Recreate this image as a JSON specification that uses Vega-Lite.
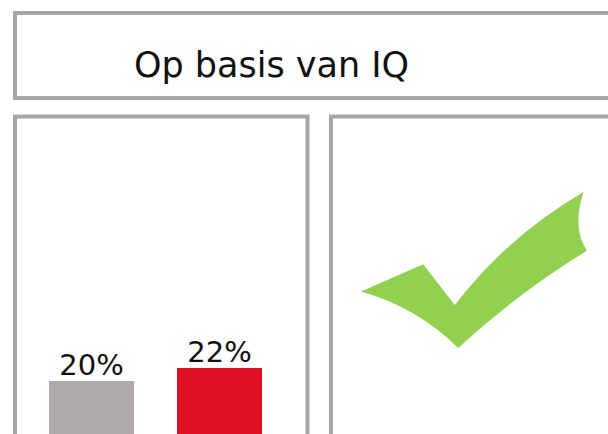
{
  "$schema": "https://vega.github.io/schema/vega-lite/v6.json",
  "padding": {"left": 13, "top": 11, "right": 0, "bottom": 0},
  "background": "white",
  "config": {"view": {"stroke": "#a6a6a6", "strokeWidth": 4}, "font": "DejaVu Sans"},
  "spacing": 14.5,
  "vconcat": [
    {
      "width": 600,
      "height": 85,
      "data": {"values": [{"label": "Op basis van IQ", "px": 0.4275, "py": 0.247}]},
      "mark": {"type": "text", "fontSize": 35, "font": "DejaVu Sans", "color": "#111111", "align": "center", "baseline": "alphabetic"},
      "encoding": {
        "x": {"field": "px", "type": "quantitative", "scale": {"domain": [0, 1]}, "axis": null},
        "y": {"field": "py", "type": "quantitative", "scale": {"domain": [0, 1]}, "axis": null},
        "text": {"field": "label"}
      }
    },
    {
      "spacing": 19,
      "hconcat": [
        {
          "width": 292.5,
          "height": 394.5,
          "data": {"values": [{"groep": "Willekeurig", "aandeel": 0.20}, {"groep": "Op basis van IQ", "aandeel": 0.22}]},
          "encoding": {
            "x": {"field": "groep", "type": "nominal", "sort": null, "axis": null, "scale": {"paddingInner": 0.336, "paddingOuter": 0.3105, "align": 0.428}},
            "y": {"field": "aandeel", "type": "quantitative", "axis": null, "scale": {"domain": [0, 0.607]}}
          },
          "layer": [
            {
              "mark": {"type": "bar"},
              "encoding": {"color": {"field": "groep", "type": "nominal", "sort": null, "legend": null, "scale": {"range": ["#aeaaaa", "#e01022"]}}}
            },
            {
              "mark": {"type": "text", "dy": -6, "baseline": "alphabetic", "fontSize": 29, "font": "DejaVu Sans", "color": "#111111"},
              "encoding": {"text": {"field": "aandeel", "type": "quantitative", "format": ".0%"}}
            }
          ]
        },
        {
          "width": 290,
          "height": 394.5,
          "data": {"values": [{"teken": "vinkje", "px": 0.493, "py": 0.611}]},
          "mark": {
            "type": "point",
            "filled": true,
            "opacity": 1,
            "color": "#92d050",
            "size": 51076,
            "shape": "M -1,0.19 L -0.45,-0.05 L -0.17,0.31 Q 0.3,-0.3 0.97,-0.69 Q 0.865,-0.37 1.0,-0.17 Q 0.42,0.18 -0.14,0.69 Q -0.5,0.33 -1,0.19 Z"
          },
          "encoding": {
            "x": {"field": "px", "type": "quantitative", "scale": {"domain": [0, 1]}, "axis": null},
            "y": {"field": "py", "type": "quantitative", "scale": {"domain": [0, 1]}, "axis": null}
          }
        }
      ]
    }
  ]
}
